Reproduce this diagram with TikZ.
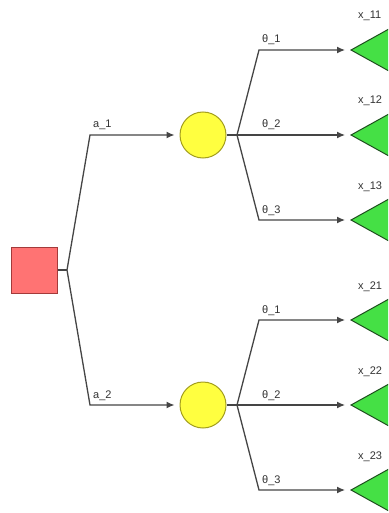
\documentclass[tikz,border=0pt]{standalone}
\usepackage{fontspec}
\setmainfont{Liberation Sans}
\usetikzlibrary{shapes.geometric, arrows.meta}

\definecolor{decfill}{HTML}{FF7373}
\definecolor{decdraw}{HTML}{A33A3A}
\definecolor{chfill}{HTML}{FFFF40}
\definecolor{chdraw}{HTML}{A39E1E}
\definecolor{payfill}{HTML}{45E045}
\definecolor{paydraw}{HTML}{1F4F1F}
\definecolor{linegray}{HTML}{454545}
\definecolor{textgray}{HTML}{333333}

\begin{document}
\begin{tikzpicture}[x=1pt, y=-1pt,
	decision/.style={rectangle, draw=decdraw, fill=decfill, line width=1pt, minimum size=46pt, inner sep=0pt},
	chance/.style={circle, draw=chdraw, fill=chfill, line width=1pt, minimum size=46pt, inner sep=0pt},
	payoff/.style={isosceles triangle, isosceles triangle apex angle=58, shape border rotate=180,
		draw=paydraw, fill=payfill, line width=1pt, minimum height=70pt, inner sep=0pt, anchor=apex},
	wire/.style={draw=linegray, line width=1.3pt},
	branch/.style={wire, -{Latex[length=8pt, width=7pt]}, shorten >=5pt},
	lbl/.style={font=\fontsize{11}{13}\selectfont, text=textgray, inner sep=0pt}]

	\clip (0,0) rectangle (388,513);

	\node[decision] (dec) at (34,270) {};
	\coordinate (j0) at (67,270);
	\draw[wire] (dec.east) -- (j0);

	\foreach \i/\y in {1/135, 2/405} {
		% chance node of action a_\i
		\node[chance] (ch\i) at (203,\y) {};
		\coordinate (k\i) at (90,\y);
		\draw[branch] (j0) -- (k\i) -- (ch\i);
		\node[lbl, anchor=base west] at ([shift={(3,-7)}]k\i) {a\_\i};

		\coordinate (j\i) at (237,\y);
		\draw[wire] (ch\i.east) -- (j\i);
		\foreach \t/\dy in {1/-85, 2/0, 3/85} {
			\coordinate (b\i\t) at (259,{\y+(\dy)});
			\node[payoff] (x\i\t) at (350,{\y+(\dy)}) {};
			\node[lbl, anchor=base west] at ([shift={(8,-31)}]x\i\t.apex) {x\_\i\t};
			\draw[branch] (j\i) -- (b\i\t) -- (x\i\t.apex);
			\node[lbl, anchor=base west] at ([shift={(3,-7)}]b\i\t) {θ\_\t};
		}
	}

\end{tikzpicture}
\end{document}
